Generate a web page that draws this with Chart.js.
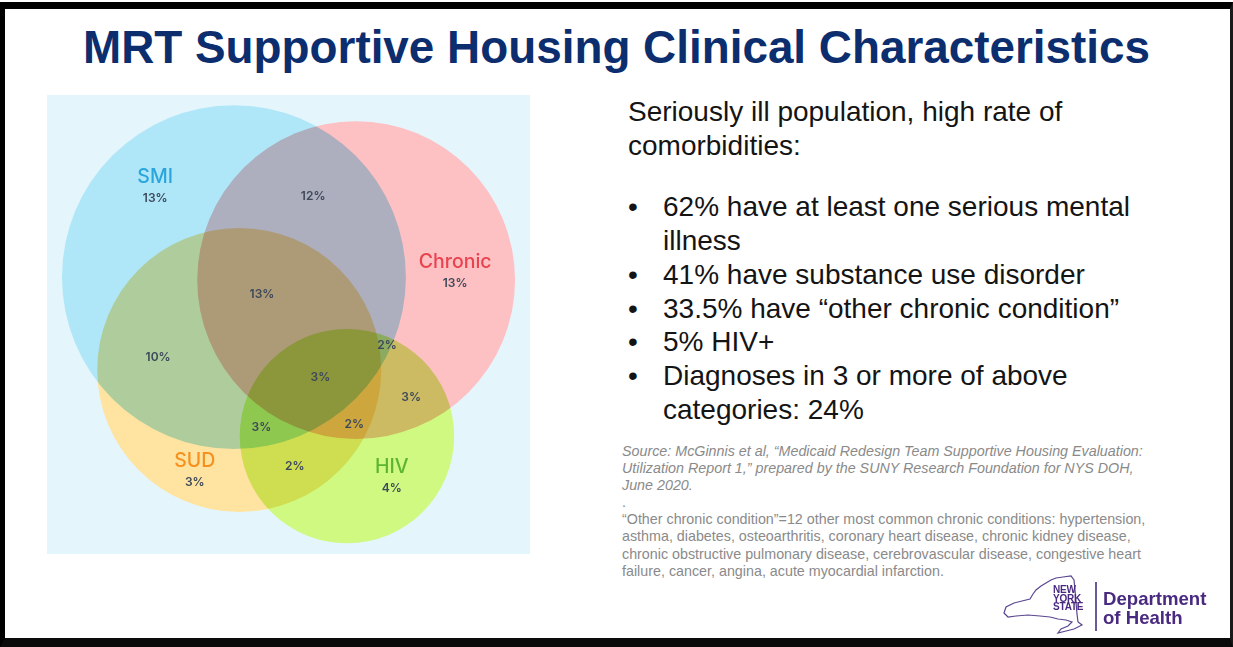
<!DOCTYPE html>
<html>
<head>
<meta charset="utf-8">
<script src="https://cdn.jsdelivr.net/npm/chart.js@4.4.1/dist/chart.umd.min.js"></script>
<style>
  html, body { margin:0; padding:0; }
  body { width:1233px; height:647px; position:relative; overflow:hidden; background:#fff; font-family:"Liberation Sans", Arial, sans-serif; }
  #frame { position:absolute; left:0; top:2px; width:1233px; height:645px; box-sizing:border-box;
           border-top:7px solid #000; border-left:5px solid #000; border-bottom:9px solid #0a0a0a; border-right:3px solid #1a1a1a; }
  #title { position:absolute; left:83px; top:20px; white-space:nowrap; font-weight:bold; font-size:46px; color:#0c2d6e; transform-origin:0 0; }
  #panel { position:absolute; left:47px; top:95px; width:483px; height:459px; background:#e5f5fc; }
  #panel canvas { display:block; }
  #body { position:absolute; left:628px; top:95px; font-size:28px; line-height:33.7px; color:#141414; white-space:nowrap; }
  #body ul { list-style:none; margin:28px 0 0 0; padding:0; }
  #body li { position:relative; padding-left:35px; }
  #body li .b { position:absolute; left:0; top:0; }
  #notes { position:absolute; left:622px; top:443px; line-height:17.1px; color:#8a8a8a; white-space:nowrap; font-size:14.3px; }
  #notes .src { font-style:italic; }
  .nys { position:absolute; font-weight:bold; font-size:10px; line-height:8.6px; color:#4a2a80; left:1053px; top:586px; letter-spacing:-0.2px; }
  .doh { position:absolute; font-weight:bold; font-size:18.6px; line-height:19px; color:#4a2a80; left:1103px; top:589px; white-space:nowrap; }
  .vline { position:absolute; left:1095px; top:582px; width:1.5px; height:49px; background:#6b5a99; }
</style>
</head>
<body>
<div id="frame"></div>
<div id="title"><span id="titleText">MRT Supportive Housing Clinical Characteristics</span></div>

<div id="panel"><canvas id="venn" width="483" height="459"></canvas></div>

<div id="body">
  <div>Seriously ill population, high rate of<br>comorbidities:</div>
  <ul id="bullets"></ul>
</div>

<div id="notes">
  <div class="src">Source: McGinnis et al, “Medicaid Redesign Team Supportive Housing Evaluation:<br>Utilization Report 1,” prepared by the SUNY Research Foundation for NYS DOH,<br>June 2020.</div>
  <div>.</div>
  <div>“Other chronic condition”=12 other most common chronic conditions: hypertension,<br>asthma, diabetes, osteoarthritis, coronary heart disease, chronic kidney disease,<br>chronic obstructive pulmonary disease, cerebrovascular disease, congestive heart<br>failure, cancer, angina, acute myocardial infarction.</div>
</div>

<svg width="1233" height="647" style="position:absolute;left:0;top:0;pointer-events:none">
  <path d="M1004,613 L1006,607 L1014,603 L1022,601 L1030,599 L1033,594 L1036,590 L1041,586 L1046,583 L1051,580 L1056,578 L1063,577 L1071,576 L1074,580 L1075,590 L1076,602 L1077,614 L1078,622 L1082,625 L1074,629 L1066,631 L1058,633 L1061,629 L1068,626 L1072,622 L1066,620 L1058,619 L1050,617 L1040,616 L1028,615 L1016,616 L1008,617 Z"
        fill="none" stroke="#5a4690" stroke-width="1.2"/>
</svg>
<div class="nys">NEW<br>YORK<br>STATE</div>
<div class="vline"></div>
<div class="doh">Department<br>of Health</div>

<script>
// ---- Venn data (region shares, %) ----
const setNames   = ['SMI', 'Chronic', 'SUD', 'HIV'];
const setOnly    = ['13%', '13%', '3%', '4%'];
// circle layout in chart units (x: 0-100, y: 0-95)
const circleX    = [38.7, 64.0, 39.8, 62.1];
const circleY    = [37.7, 38.3, 56.9, 70.6];
const circleR    = [35.6, 32.9, 29.4, 22.2];
const circleFill = ['#afe7f9', '#fdc0c3', '#ffe3a0', '#cff981'];
const nameColors = ['#2aa6dc', '#e8434f', '#f5921f', '#5db432'];
// set name label anchors (chart units)
const nameX      = [22.4, 84.5, 30.6, 71.4];
const nameY      = [17.0, 34.5, 75.8, 77.1];
// overlap regions
const regionPct  = ['12%', '13%', '10%', '3%', '2%', '3%', '3%', '2%', '2%'];
const regionX    = [55.1, 44.5, 23.0, 56.6, 70.4, 75.4, 44.4, 63.6, 51.3];
const regionY    = [20.9, 41.3, 54.4, 58.4, 51.8, 62.5, 68.8, 68.2, 76.9];

// ---- right-hand text ----
const bulletLines = [
  ['62% have at least one serious mental', 'illness'],
  ['41% have substance use disorder'],
  ['33.5% have “other chronic condition”'],
  ['5% HIV+'],
  ['Diagnoses in 3 or more of above', 'categories: 24%']
];
const ul = document.getElementById('bullets');
bulletLines.forEach(lines => {
  const li = document.createElement('li');
  li.innerHTML = '<span class="b">•</span>' + lines.join('<br>');
  ul.appendChild(li);
});

// fit title width
const tt = document.getElementById('titleText');
const tw = tt.getBoundingClientRect().width;
document.getElementById('title').style.transform = 'scaleX(' + (1067 / tw) + ')';

// ---- chart ----
const multiply = {
  id: 'multiply',
  beforeDatasetsDraw(chart) { chart.ctx.save(); chart.ctx.globalCompositeOperation = 'multiply'; },
  afterDatasetsDraw(chart) { chart.ctx.restore(); }
};
const vennLabels = {
  id: 'vennLabels',
  afterDraw(chart) {
    const ctx = chart.ctx, sx = chart.scales.x, sy = chart.scales.y;
    ctx.save();
    ctx.textAlign = 'center';
    ctx.textBaseline = 'middle';
    setNames.forEach((n, i) => {
      const px = sx.getPixelForValue(nameX[i]), py = sy.getPixelForValue(nameY[i]);
      ctx.fillStyle = nameColors[i];
      ctx.font = '500 19.5px Inter, "Noto Sans", sans-serif';
      ctx.fillText(n, px, py);
      ctx.fillStyle = '#3d4859';
      ctx.font = '600 12px Inter, "Noto Sans", sans-serif';
      ctx.fillText(setOnly[i], px, sy.getPixelForValue(nameY[i] + 4.4));
    });
    ctx.fillStyle = '#3d4859';
    ctx.font = '600 12px Inter, "Noto Sans", sans-serif';
    regionPct.forEach((t, i) => {
      ctx.fillText(t, sx.getPixelForValue(regionX[i]), sy.getPixelForValue(regionY[i]));
    });
    ctx.restore();
  }
};

new Chart(document.getElementById('venn'), {
  type: 'scatter',
  data: {
    datasets: [{
      data: circleX.map((x, i) => ({ x: x, y: circleY[i] })),
      pointBackgroundColor: circleFill,
      pointBorderWidth: 0,
      pointHoverRadius: 0,
      showLine: false,
      clip: false,
      pointRadius: (c) => {
        if (c.dataIndex === undefined) return 0;
        const s = c.chart.scales.x;
        return Math.abs(s.getPixelForValue(circleR[c.dataIndex]) - s.getPixelForValue(0));
      }
    }]
  },
  options: {
    responsive: false,
    animation: false,
    devicePixelRatio: 1,
    events: [],
    layout: { padding: 0 },
    plugins: { legend: { display: false }, tooltip: { enabled: false } },
    scales: {
      x: { type: 'linear', min: 0, max: 100, display: false },
      y: { type: 'linear', min: 0, max: 95, reverse: true, display: false }
    }
  },
  plugins: [multiply, vennLabels]
});
</script>
</body>
</html>
